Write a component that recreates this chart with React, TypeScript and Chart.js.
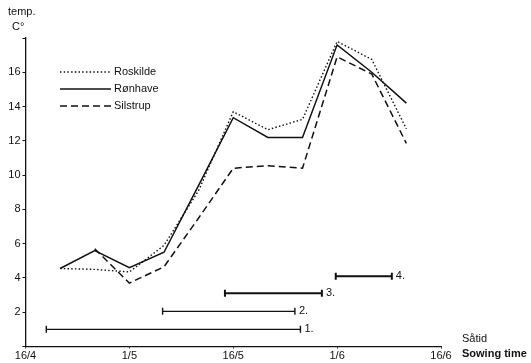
import React, { useEffect, useRef } from 'react';
import { Chart, registerables } from 'chart.js';

Chart.register(...registerables);

// x values: days after 16/4 (5-day periods)
const pentadDays = [5, 10, 15, 20, 25, 30, 35, 40, 45, 50, 55];
const roskilde = [4.55, 4.5, 4.35, 5.9, 9.1, 13.7, 12.65, 13.25, 17.8, 16.75, 12.7];
const ronhave = [4.55, 5.6, 4.6, 5.5, 9.4, 13.35, 12.2, 12.2, 17.6, 16.0, 14.2];
const silstrup = [null, 5.7, 3.7, 4.65, 7.5, 10.4, 10.55, 10.4, 16.9, 15.9, 11.85];
const seriesNames = ['Roskilde', 'Rønhave', 'Silstrup'];

const xTickDays = [0, 15, 30, 45, 60];
const xTickLabels = ['16/4', '1/5', '16/5', '1/6', '16/6'];

// sowing time periods
const sowingLabels = ['1.', '2.', '3.', '4.'];
const sowingStart = [3, 19.8, 28.8, 44.8];
const sowingEnd = [39.7, 38.9, 42.8, 52.9];
const sowingLevel = [1, 2.05, 3.1, 4.1];
const sowingWidth = [1.4, 1.4, 2, 2];

const INK = '#111';
const FONT = '"Liberation Sans", Arial, Helvetica, sans-serif';

const seriesStyles = [
  { borderDash: [1.5, 2.2], borderWidth: 1.4 },
  { borderDash: [], borderWidth: 1.5 },
  { borderDash: [7, 4], borderWidth: 1.5 },
];

const textPlugin = {
  id: 'texts',
  afterDraw(chart: any) {
    const ctx = chart.ctx;
    ctx.save();
    ctx.fillStyle = INK;
    ctx.strokeStyle = INK;
    ctx.textBaseline = 'middle';
    ctx.textAlign = 'left';
    ctx.font = `11px ${FONT}`;
    ctx.fillText('temp.', 8, 12);
    ctx.fillText('C°', 12, 27);
    ctx.fillText('Såtid', 462, 339);
    ctx.font = `bold 11px ${FONT}`;
    ctx.fillText('Sowing time', 462, 354);

    // legend
    ctx.font = `11px ${FONT}`;
    const rows = [72, 89, 106];
    seriesNames.forEach((name, i) => {
      const st = seriesStyles[i];
      ctx.save();
      ctx.lineWidth = st.borderWidth;
      ctx.setLineDash(st.borderDash);
      ctx.beginPath();
      ctx.moveTo(60, rows[i]);
      ctx.lineTo(111, rows[i]);
      ctx.stroke();
      ctx.restore();
      ctx.fillText(name, 114, rows[i]);
    });

    // sowing labels
    const xs = chart.scales.x;
    const ys = chart.scales.y;
    sowingLabels.forEach((lab, i) => {
      const px = xs.getPixelForValue(sowingEnd[i]);
      const py = ys.getPixelForValue(sowingLevel[i]);
      ctx.fillText(lab, px + 4, py);
    });
    ctx.restore();
  },
};

export default function App() {
  const ref = useRef<HTMLCanvasElement>(null);
  useEffect(() => {
    if (!ref.current) return;
    const seriesData = [roskilde, ronhave, silstrup];
    const datasets: any[] = seriesData.map((vals, i) => ({
      label: seriesNames[i],
      data: pentadDays.map((d, j) => ({ x: d, y: vals[j] })),
      borderColor: INK,
      borderWidth: seriesStyles[i].borderWidth,
      borderDash: seriesStyles[i].borderDash,
      pointRadius: 0,
      fill: false,
      tension: 0,
      spanGaps: false,
    }));
    sowingLabels.forEach((lab, i) => {
      datasets.push({
        label: 'Sowing ' + lab,
        data: [
          { x: sowingStart[i], y: sowingLevel[i] },
          { x: sowingEnd[i], y: sowingLevel[i] },
        ],
        borderColor: INK,
        borderWidth: sowingWidth[i],
        pointStyle: 'line',
        rotation: 90,
        pointRadius: 3.5,
        pointBorderWidth: sowingWidth[i],
        pointBorderColor: INK,
        fill: false,
      });
    });

    const chart = new Chart(ref.current, {
      type: 'line',
      data: { datasets },
      options: {
        animation: false,
        responsive: false,
        layout: { padding: { top: 38, right: 90, left: 0, bottom: 0 } },
        plugins: { legend: { display: false }, tooltip: { enabled: false } },
        scales: {
          x: {
            type: 'linear',
            min: 0,
            max: 60,
            afterBuildTicks: (scale: any) => {
              scale.ticks = xTickDays.map((v) => ({ value: v }));
            },
            afterFit: (scale: any) => {
              scale.height = 16.5;
            },
            ticks: {
              autoSkip: false,
              maxRotation: 0,
              padding: 1,
              color: INK,
              font: { family: FONT, size: 11 },
              callback: (v: any) => {
                const k = xTickDays.indexOf(Number(v));
                return k >= 0 ? xTickLabels[k] : '';
              },
            },
            grid: { drawOnChartArea: false, tickLength: 2, color: INK, lineWidth: 1 },
            border: { color: INK, width: 1.3 },
          },
          y: {
            type: 'linear',
            min: 0,
            max: 18,
            afterFit: (scale: any) => {
              scale.width = 25.5;
            },
            ticks: {
              stepSize: 2,
              padding: 2,
              color: INK,
              font: { family: FONT, size: 11 },
              callback: (v: any) => (v === 0 || v === 18 ? '' : String(v)),
            },
            grid: { drawOnChartArea: false, tickLength: 3, color: INK, lineWidth: 1 },
            border: { color: INK, width: 1.3 },
          },
        },
      },
      plugins: [textPlugin],
    });
    return () => chart.destroy();
  }, []);

  return (
    <div style={{ position: 'fixed', left: 0, top: 0, width: 531, height: 363, background: '#fff' }}>
      <canvas ref={ref} width={531} height={363} style={{ display: 'block' }} />
    </div>
  );
}
